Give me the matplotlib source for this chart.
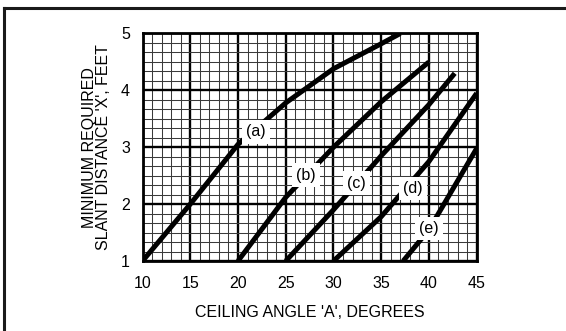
import numpy as np
import matplotlib
matplotlib.use("Agg")
import matplotlib.pyplot as plt
from matplotlib.lines import Line2D
from matplotlib.ticker import MultipleLocator

plt.rcParams['font.family'] = ['Liberation Sans', 'DejaVu Sans']

# curve data: ceiling angle (deg) vs minimum slant distance (ft)
curve_names = ["(a)", "(b)", "(c)", "(d)", "(e)"]
angle_a = [10, 15, 20, 25, 30, 35, 37]
dist_a = [1.0, 2.0, 3.05, 3.78, 4.38, 4.82, 5.0]
angle_b = [20, 25, 30, 35, 40]
dist_b = [1.0, 2.12, 3.0, 3.8, 4.5]
angle_c = [25, 30, 35, 40, 42.7]
dist_c = [1.0, 1.9, 2.85, 3.75, 4.3]
angle_d = [30, 35, 40, 45]
dist_d = [1.0, 1.78, 2.75, 3.95]
angle_e = [37.3, 40, 45]
dist_e = [1.0, 1.55, 2.98]

# where the curve labels sit
label_x = [21.9, 27.1, 32.4, 38.3, 40.0]
label_y = [3.27, 2.51, 2.37, 2.28, 1.57]

x_ticks = [10, 15, 20, 25, 30, 35, 40, 45]
y_ticks = [1, 2, 3, 4, 5]

fig = plt.figure(figsize=(5.66, 3.31), dpi=100)
ax = fig.add_axes([0.2518, 0.2115, 0.5904, 0.6873])

ax.set_xlim(10, 45)
ax.set_ylim(1, 5)
ax.xaxis.set_major_locator(MultipleLocator(5))
ax.xaxis.set_minor_locator(MultipleLocator(1))
ax.yaxis.set_major_locator(MultipleLocator(1))
ax.yaxis.set_minor_locator(MultipleLocator(1 / 6))
ax.set_xticks(x_ticks)
ax.set_yticks(y_ticks)
ax.grid(which="minor", color="#3a3a3a", linewidth=0.75)
ax.grid(which="major", color="black", linewidth=1.7)
ax.set_axisbelow(True)
ax.tick_params(axis="x", which="both", length=0, labelsize=11.5, pad=11)
ax.tick_params(axis="y", which="both", length=0, labelsize=11.5, pad=9)
for s in ax.spines.values():
    s.set_linewidth(2.0)

curves = [(angle_a, dist_a), (angle_b, dist_b), (angle_c, dist_c),
          (angle_d, dist_d), (angle_e, dist_e)]
for (xs, ys) in curves:
    ax.plot(xs, ys, color="black", linewidth=3.6, solid_capstyle="butt",
            clip_on=True, zorder=3)

for name, lx, ly in zip(curve_names, label_x, label_y):
    ax.text(lx, ly, name, ha="center", va="center", fontsize=11.5, zorder=5,
            bbox=dict(facecolor="white", edgecolor="none", pad=3))

ax.set_xlabel("CEILING ANGLE 'A', DEGREES", fontsize=11.5, labelpad=10)
ax.set_ylabel("MINIMUM REQUIRED\nSLANT DISTANCE 'X', FEET", fontsize=11.5,
              labelpad=7, linespacing=0.9)

# partial outer frame (top and left)
fig.add_artist(Line2D([4 / 566, 1.0], [1 - 8 / 331, 1 - 8 / 331],
                      transform=fig.transFigure, color="#1a1a1a", linewidth=2.2))
fig.add_artist(Line2D([4 / 566, 4 / 566], [0.0, 1 - 8 / 331],
                      transform=fig.transFigure, color="#1a1a1a", linewidth=2.2))

fig.savefig("out.png", dpi=100)
